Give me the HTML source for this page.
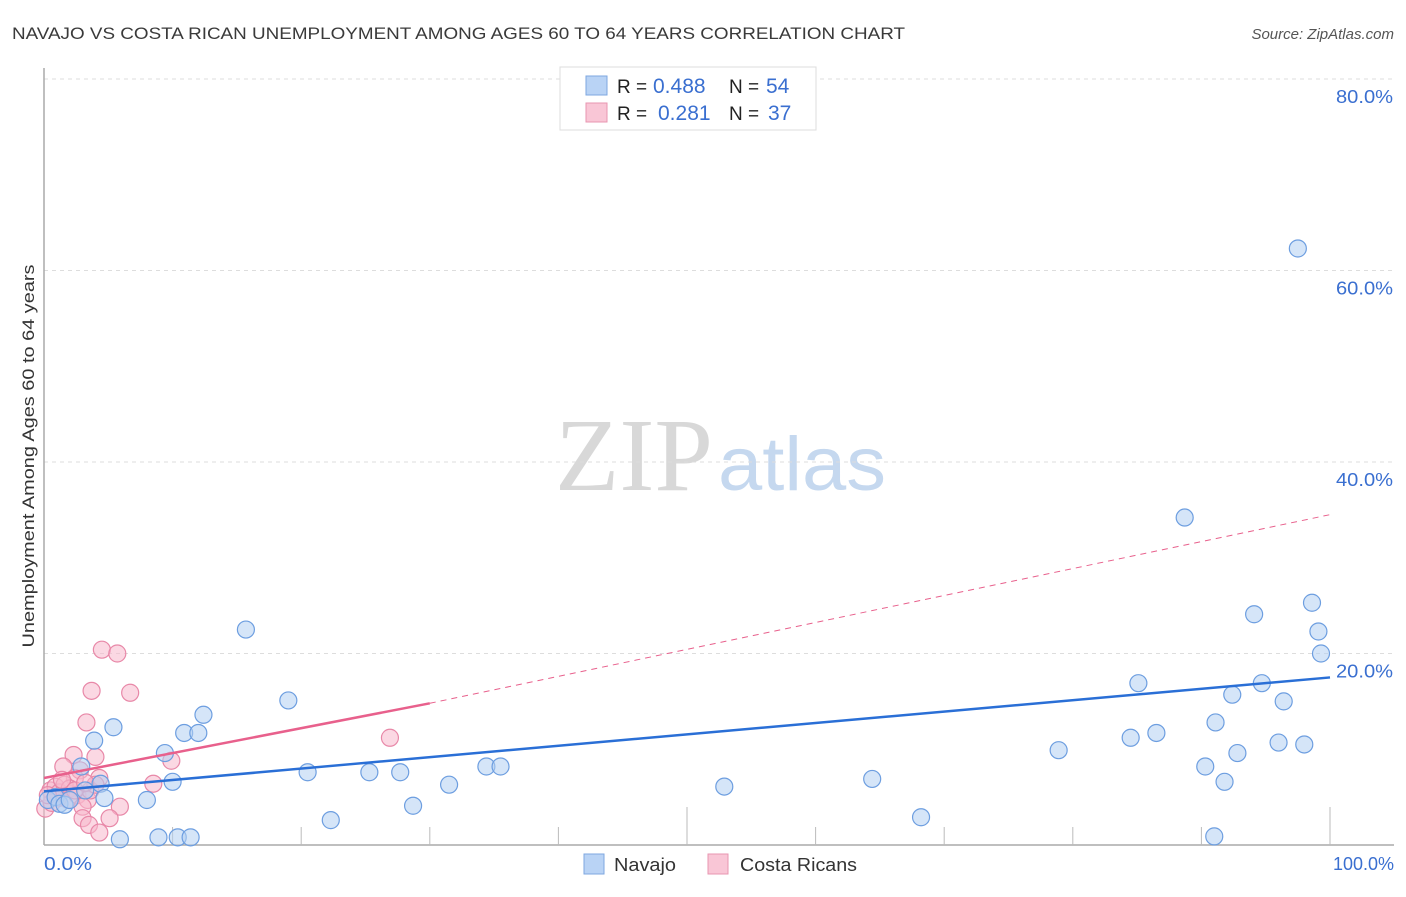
<!DOCTYPE html>
<html><head><meta charset="utf-8"><style>
body{margin:0;background:#fff;font-family:"Liberation Sans",sans-serif}
</style></head><body>
<svg id="chart" width="1406" height="892" xmlns="http://www.w3.org/2000/svg">
<text x="12" y="39" font-size="17" fill="#3a3a3a" textLength="893" lengthAdjust="spacingAndGlyphs">NAVAJO VS COSTA RICAN UNEMPLOYMENT AMONG AGES 60 TO 64 YEARS CORRELATION CHART</text>
<text x="1394" y="39" font-size="15" fill="#555" font-style="italic" text-anchor="end">Source: ZipAtlas.com</text>
<text x="34" y="456" font-size="17" fill="#333" text-anchor="middle" textLength="383" lengthAdjust="spacingAndGlyphs" transform="rotate(-90 34 456)">Unemployment Among Ages 60 to 64 years</text>
<g>
<text x="555" y="490" font-size="104" fill="#d8d8d8" font-family="Liberation Serif,serif" textLength="158" lengthAdjust="spacingAndGlyphs">ZIP</text>
<text x="718" y="490" font-size="76" fill="#c5d8ef" textLength="168" lengthAdjust="spacingAndGlyphs">atlas</text>
</g>
<g id="grid"></g>
<g id="axes"></g>
<g id="marks"></g>
<g>
<rect x="560" y="67" width="256" height="63" fill="#fff" stroke="#ddd"/>
<rect x="586" y="76" width="21" height="19" fill="#b9d3f5" stroke="#7ea7e0"/>
<rect x="586" y="103" width="21" height="19" fill="#f9c6d6" stroke="#e896b0"/>
<text y="93" font-size="19" fill="#222"><tspan x="617">R =</tspan><tspan x="653" fill="#3a6fd0" font-size="21">0.488</tspan><tspan x="729">N =</tspan><tspan x="766" fill="#3a6fd0" font-size="21">54</tspan></text>
<text y="120" font-size="19" fill="#222"><tspan x="617">R =</tspan><tspan x="658" fill="#3a6fd0" font-size="21">0.281</tspan><tspan x="729">N =</tspan><tspan x="768" fill="#3a6fd0" font-size="21">37</tspan></text>
</g>
<g>
<rect x="584" y="854" width="20" height="20" fill="#b9d3f5" stroke="#7ea7e0"/>
<text x="614" y="871" font-size="18" fill="#333" textLength="62" lengthAdjust="spacingAndGlyphs">Navajo</text>
<rect x="708" y="854" width="20" height="20" fill="#f9c6d6" stroke="#e896b0"/>
<text x="740" y="871" font-size="18" fill="#333" textLength="117" lengthAdjust="spacingAndGlyphs">Costa Ricans</text>
</g>
<text x="44" y="870" font-size="18" fill="#3a6fd0" textLength="48" lengthAdjust="spacingAndGlyphs">0.0%</text>
<text x="1394" y="870" font-size="18" fill="#3a6fd0" text-anchor="end">100.0%</text>
</svg>
<script>
const yTicks=[20,40,60,80];
const yTickLabels=["20.0%","40.0%","60.0%","80.0%"];
const navajoX=[97.5,88.7,98.6,94.1,99.1,99.3,15.7,85.1,94.7,92.4,19.0,96.4,12.4,91.1,5.4,10.9,12.0,3.9,86.5,84.5,96.0,98.0,78.9,92.8,9.4,2.9,34.4,35.5,90.3,20.5,25.3,27.7,10.0,4.4,91.8,31.5,64.4,52.9,8.0,4.7,28.7,22.3,68.2,5.9,8.9,10.4,11.4,91.0,0.3,0.9,1.2,1.6,2.0,3.2];
const navajoY=[62.3,34.2,25.3,24.1,22.3,20.0,22.5,16.9,16.9,15.7,15.1,15.0,13.6,12.8,12.3,11.7,11.7,10.9,11.7,11.2,10.7,10.5,9.9,9.6,9.6,8.2,8.2,8.2,8.2,7.6,7.6,7.6,6.6,6.4,6.6,6.3,6.9,6.1,4.7,4.9,4.1,2.6,2.9,0.6,0.8,0.8,0.8,0.9,4.7,5.0,4.3,4.2,4.7,5.7];
const costaX=[4.5,5.7,3.7,6.7,3.3,26.9,9.9,2.3,4.0,1.5,2.8,2.4,8.5,4.3,0.5,0.9,1.2,1.6,2.0,1.1,1.9,2.6,3.4,5.9,3.0,3.0,5.1,3.5,4.3,0.1,0.6,1.4,3.6,4.0,2.4,0.3,3.2];
const costaY=[20.4,20.0,16.1,15.9,12.8,11.2,8.8,9.4,9.2,8.2,7.8,7.0,6.4,7.0,5.7,6.1,5.5,6.3,5.9,4.9,4.7,5.2,4.7,4.0,4.0,2.8,2.8,2.1,1.3,3.8,4.4,6.8,5.7,6.3,5.7,5.2,6.5];
const navajoTrend=[5.6,17.5];
const costaTrend=[7.0,14.8,34.5];
const X0=44,X1=1330,Y0=845,Y80=79;
const sx=v=>X0+(X1-X0)*v/100;
const sy=v=>Y0-(Y0-Y80)*v/80;
const NS="http://www.w3.org/2000/svg";
function mk(t,a,p){const e=document.createElementNS(NS,t);for(const k in a)e.setAttribute(k,a[k]);p.appendChild(e);return e;}
const grid=document.getElementById('grid'),axes=document.getElementById('axes'),marks=document.getElementById('marks');
yTicks.forEach((t,i)=>{
 const l=mk('line',{x1:X0,x2:1394,y1:sy(t),y2:sy(t),stroke:'#ddd','stroke-dasharray':'4,4'},grid);
 
 
 const tx=mk('text',{x:1393,y:sy(t)+24,'font-size':18,fill:'#3a6fd0','text-anchor':'end',textLength:57,lengthAdjust:'spacingAndGlyphs'},grid);
 tx.textContent=yTickLabels[i];
 
 
});
const ax=mk('line',{x1:X0,x2:X0,y1:68,y2:Y0,stroke:'#aaa','stroke-width':1.5},axes);


const bx=mk('line',{x1:X0,x2:1394,y1:Y0,y2:Y0,stroke:'#aaa','stroke-width':1.5},axes);


for(let i=1;i<=10;i++){
 const tall=(i==5||i==10);
 const tk=mk('line',{x1:sx(i*10),x2:sx(i*10),y1:tall?807:827,y2:Y0,stroke:'#bbb'},axes);
 
 
}
function dot(x,y,fill,stroke,name){
 const c=mk('circle',{cx:sx(x),cy:sy(y),r:8.5,fill:fill,'fill-opacity':0.55,stroke:stroke,'stroke-width':1.2},marks);
 
 
}
costaX.forEach((x,i)=>dot(x,costaY[i],'#f7b8cc','#e888a8','costa-rican-point'));
navajoX.forEach((x,i)=>dot(x,navajoY[i],'#b3cff3','#6d9ee0','navajo-point'));
const nl=mk('line',{x1:sx(0),y1:sy(navajoTrend[0]),x2:sx(100),y2:sy(navajoTrend[1]),stroke:'#2a6fd6','stroke-width':2.5},marks);


const cl=mk('line',{x1:sx(0),y1:sy(costaTrend[0]),x2:sx(30),y2:sy(costaTrend[1]),stroke:'#e8608c','stroke-width':2.5},marks);


const cd=mk('line',{x1:sx(30),y1:sy(costaTrend[1]),x2:sx(100),y2:sy(costaTrend[2]),stroke:'#e8608c','stroke-width':1,'stroke-dasharray':'6,5'},marks);


</script>
</body></html>
